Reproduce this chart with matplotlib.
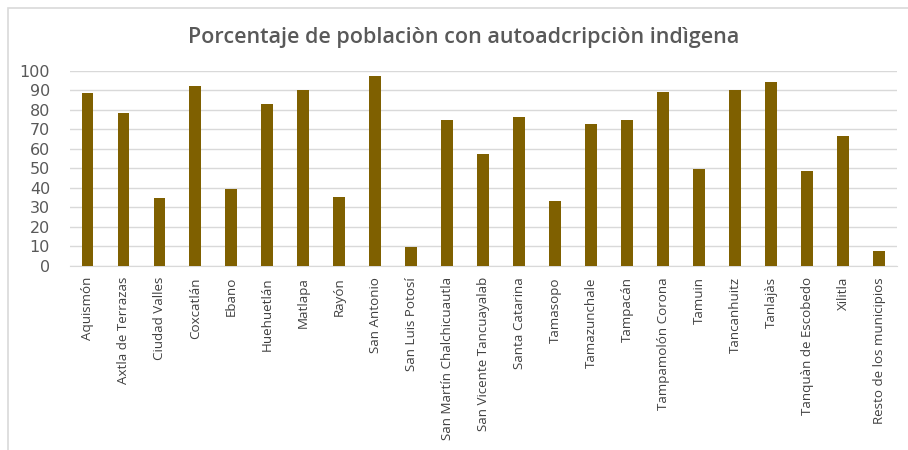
import matplotlib
matplotlib.use("Agg")
import matplotlib.pyplot as plt
from matplotlib.patches import Rectangle

municipios = ["Aquismón", "Axtla de Terrazas", "Ciudad Valles", "Coxcatlán", "Ebano",
              "Huehuetlán", "Matlapa", "Rayón", "San Antonio", "San Luis Potosí",
              "San Martín Chalchicuautla", "San Vicente Tancuayalab", "Santa Catarina",
              "Tamasopo", "Tamazunchale", "Tampacán", "Tampamolón Corona", "Tamuin",
              "Tancanhuitz", "Tanlajàs", "Tanquàn de Escobedo", "Xilitla",
              "Resto de los municipios"]
porcentaje = [88.4, 78.5, 34.6, 92.3, 39.2, 82.8, 90.3, 35.3, 97.4, 9.7,
              74.6, 57.3, 76.3, 33.3, 72.5, 74.6, 89.2, 49.8, 90.1, 94.4,
              48.6, 66.7, 7.5]
yticks = list(range(0, 101, 10))
title = "Porcentaje de poblaciòn con autoadcripciòn indìgena"

W, H = 908, 450
fig = plt.figure(figsize=(W / 100, H / 100), dpi=100)
fig.patch.set_facecolor("white")
# chart frame
fig.patches.append(Rectangle((8 / W, -0.01), 1.02, 1 - 8 / H + 0.01, transform=fig.transFigure,
                             fill=False, edgecolor="#D9D9D9", linewidth=1.2))

left, right, top, bottom = 69.5, 897, 70.7, 266
ax = fig.add_axes([left / W, 1 - bottom / H, (right - left) / W, (bottom - top) / H])
x = list(range(len(municipios)))
ax.bar(x, porcentaje, width=0.33, color="#7F6000", zorder=3)
ax.set_xlim(-0.5, len(municipios) - 0.5)
ax.set_ylim(0, 100)
ax.set_yticks(yticks)
ax.set_yticklabels([str(v) for v in yticks], fontsize=11.5, color="#595959",
                   family="DejaVu Sans")
ax.set_xticks(x)
ax.set_xticklabels(municipios, rotation=90, fontsize=9.6, color="#404040",
                   family=["Open Sans", "DejaVu Sans"])
ax.tick_params(axis="both", length=0)
ax.tick_params(axis="y", pad=14)
ax.tick_params(axis="x", pad=8)
ax.grid(axis="y", color="#D9D9D9", linewidth=1, zorder=0)
for s in ["top", "right", "left"]:
    ax.spines[s].set_visible(False)
ax.spines["bottom"].set_color("#D9D9D9")

fig.text(464 / W, 1 - 38 / H, title, ha="center", va="center", fontsize=15.5,
         color="#595959", family=["Open Sans", "DejaVu Sans"], fontweight="semibold")

fig.savefig("out.png", dpi=100)
